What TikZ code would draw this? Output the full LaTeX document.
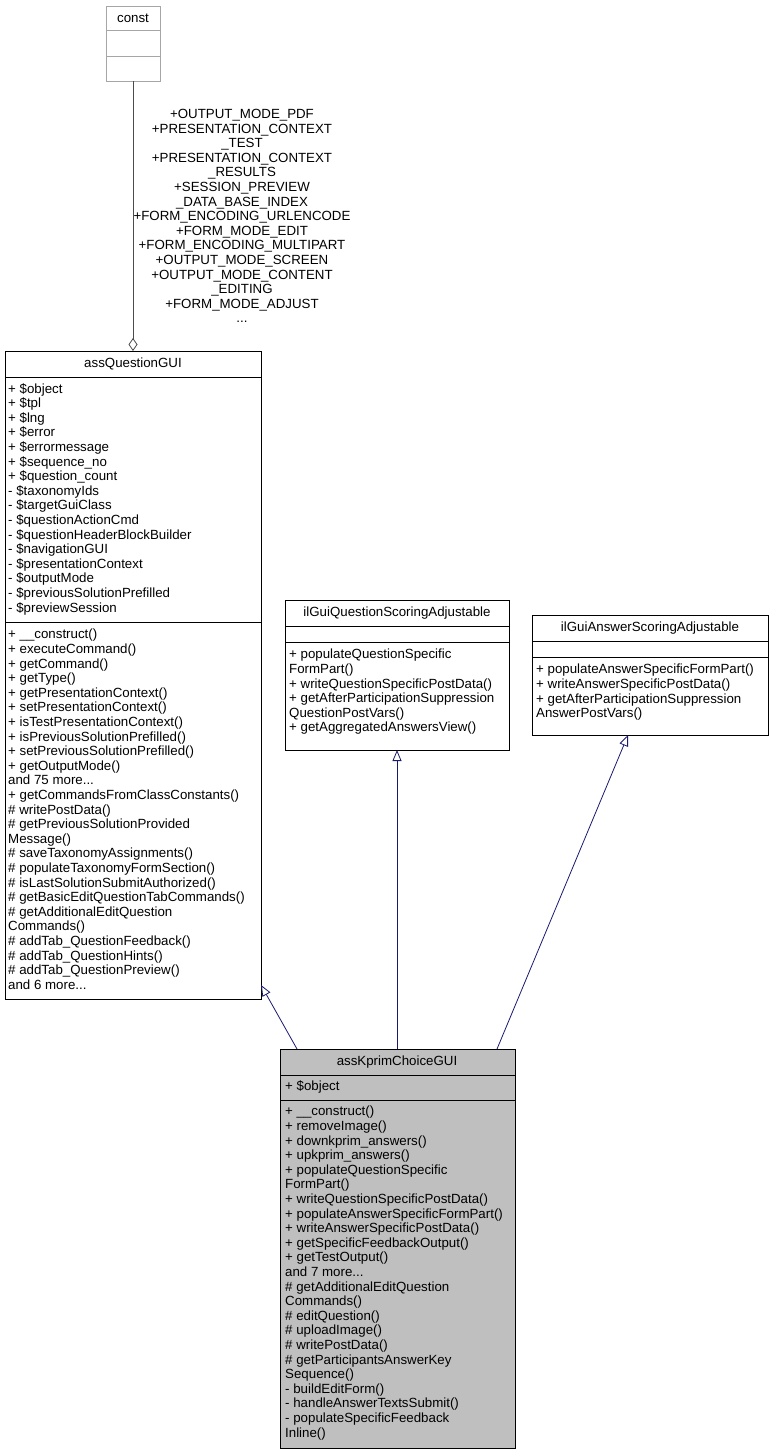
\documentclass[tikz,border=0pt]{standalone}
\usepackage{fontspec}
\setmainfont{Liberation Sans}
\usetikzlibrary{arrows.meta}
\definecolor{edgeblue}{HTML}{191970}
\begin{document}
\begin{tikzpicture}[x=1pt, y=-1pt, font=\fontsize{13.3}{14.6}\selectfont,
  box/.style={draw=black, line width=0.8pt},
  txt/.style={anchor=north west, inner sep=0pt, align=left},
  ttl/.style={inner sep=0pt},
  inherit/.style={draw=edgeblue, line width=0.8pt, -{Triangle[open, length=11pt, width=9pt]}}]
\useasboundingbox (0,0) rectangle (774,1455);

% const
\draw[draw=gray!70] (106,6) rectangle (160,81);
\draw[draw=gray!70] (106,30) -- (160,30) (106,56) -- (160,56);
\node[ttl] (constT) at (133,18) {const};
\coordinate (constB) at (133,81);

% assQuestionGUI
\draw[box] (5,351) rectangle (261,999);
\draw[box] (5,377) -- (261,377) (5,622) -- (261,622);
\node[ttl] (qgui) at (133,364) {assQuestionGUI};
\coordinate (qguiTop) at (133,351);
\coordinate (qguiR) at (261,985);
\node[txt] (qguiAttr) at (8,383) {+ \$object\\+ \$tpl\\+ \$lng\\+ \$error\\+ \$errormessage\\+ \$sequence\_no\\+ \$question\_count\\- \$taxonomyIds\\- \$targetGuiClass\\- \$questionActionCmd\\- \$questionHeaderBlockBuilder\\- \$navigationGUI\\- \$presentationContext\\- \$outputMode\\- \$previousSolutionPrefilled\\- \$previewSession};
\node[txt] (qguiOps) at (8,629) {+ \_\_construct()\\+ executeCommand()\\+ getCommand()\\+ getType()\\+ getPresentationContext()\\+ setPresentationContext()\\+ isTestPresentationContext()\\+ isPreviousSolutionPrefilled()\\+ setPreviousSolutionPrefilled()\\+ getOutputMode()\\and 75 more...\\+ getCommandsFromClassConstants()\\\# writePostData()\\\# getPreviousSolutionProvided\\Message()\\\# saveTaxonomyAssignments()\\\# populateTaxonomyFormSection()\\\# isLastSolutionSubmitAuthorized()\\\# getBasicEditQuestionTabCommands()\\\# getAdditionalEditQuestion\\Commands()\\\# addTab\_QuestionFeedback()\\\# addTab\_QuestionHints()\\\# addTab\_QuestionPreview()\\and 6 more...};

% ilGuiQuestionScoringAdjustable
\draw[box] (285,600) rectangle (509,750);
\draw[box] (285,626) -- (509,626) (285,642) -- (509,642);
\node[ttl] (qsa) at (397,613) {ilGuiQuestionScoringAdjustable};
\coordinate (qsaB) at (397,750);
\node[txt] (qsaOps) at (289,649) {+ populateQuestionSpecific\\FormPart()\\+ writeQuestionSpecificPostData()\\+ getAfterParticipationSuppression\\QuestionPostVars()\\+ getAggregatedAnswersView()};

% ilGuiAnswerScoringAdjustable
\draw[box] (532,615) rectangle (768,735);
\draw[box] (532,641) -- (768,641) (532,657) -- (768,657);
\node[ttl] (asa) at (650,628) {ilGuiAnswerScoringAdjustable};
\coordinate (asaB) at (628,735);
\node[txt] (asaOps) at (536,664) {+ populateAnswerSpecificFormPart()\\+ writeAnswerSpecificPostData()\\+ getAfterParticipationSuppression\\AnswerPostVars()};

% assKprimChoiceGUI
\draw[box, fill=gray!50] (280,1049) rectangle (515,1448);
\draw[box] (280,1075) -- (515,1075) (280,1100) -- (515,1100);
\node[ttl] (kprim) at (397,1062) {assKprimChoiceGUI};
\coordinate (kL) at (297,1049);
\coordinate (kM) at (397,1049);
\coordinate (kR) at (497,1049);
\node[txt] (kAttr) at (285,1080) {+ \$object};
\node[txt] (kOps) at (285,1106) {+ \_\_construct()\\+ removeImage()\\+ downkprim\_answers()\\+ upkprim\_answers()\\+ populateQuestionSpecific\\FormPart()\\+ writeQuestionSpecificPostData()\\+ populateAnswerSpecificFormPart()\\+ writeAnswerSpecificPostData()\\+ getSpecificFeedbackOutput()\\+ getTestOutput()\\and 7 more...\\\# getAdditionalEditQuestion\\Commands()\\\# editQuestion()\\\# uploadImage()\\\# writePostData()\\\# getParticipantsAnswerKey\\Sequence()\\- buildEditForm()\\- handleAnswerTextsSubmit()\\- populateSpecificFeedback\\Inline()};

% edges
\draw[draw=gray!60!black, line width=0.8pt, -{Diamond[open, length=13pt, width=9pt]}] (constB) -- (qguiTop)
  node[pos=0.5, anchor=center, xshift=109pt, align=center, inner sep=0pt] (constLbl) {+OUTPUT\_MODE\_PDF\\+PRESENTATION\_CONTEXT\\\_TEST\\+PRESENTATION\_CONTEXT\\\_RESULTS\\+SESSION\_PREVIEW\\\_DATA\_BASE\_INDEX\\+FORM\_ENCODING\_URLENCODE\\+FORM\_MODE\_EDIT\\+FORM\_ENCODING\_MULTIPART\\+OUTPUT\_MODE\_SCREEN\\+OUTPUT\_MODE\_CONTENT\\\_EDITING\\+FORM\_MODE\_ADJUST\\...};
\draw[inherit] (kL) -- (qguiR);
\draw[inherit] (kM) -- (qsaB);
\draw[inherit] (kR) -- (asaB);
\end{tikzpicture}
\end{document}
